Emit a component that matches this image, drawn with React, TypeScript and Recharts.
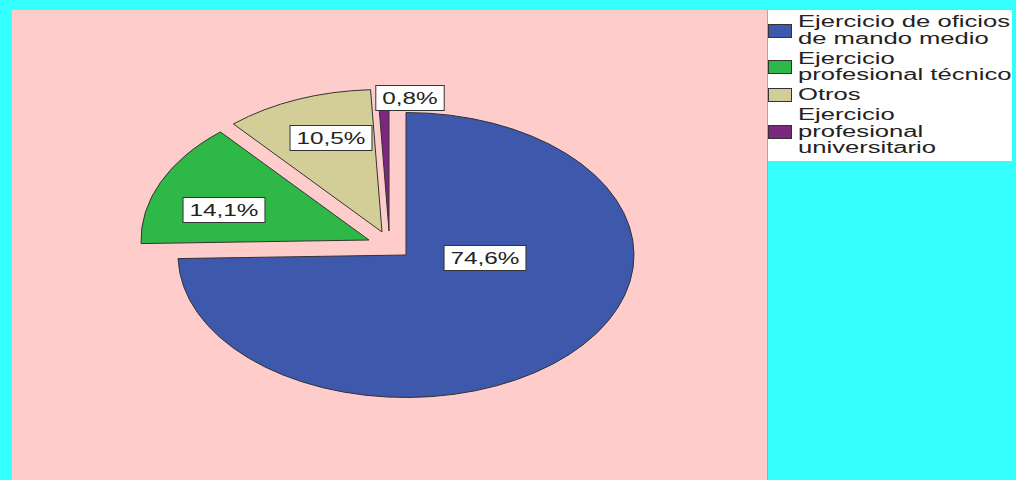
import { PieChart, Pie, Cell, Legend } from 'recharts';

const categories = [
  'Ejercicio de oficios de mando medio',
  'Ejercicio profesional técnico',
  'Otros',
  'Ejercicio profesional universitario',
];
const shares = [74.6, 14.1, 10.5, 0.8];
const legendLines = [
  ['Ejercicio de oficios', 'de mando medio'],
  ['Ejercicio', 'profesional técnico'],
  ['Otros'],
  ['Ejercicio', 'profesional', 'universitario'],
];

const colors = ['#3E58AC', '#2EB848', '#D3CE97', '#7C277D'];

const data = categories.map((name, i) => ({ name, value: shares[i] }));

const W = 1016;
const H = 480;
const CX = 406;
const CY = 255;
const RY = 142.5;
const XSTRETCH = 1.6; // the original pie is drawn as an ellipse
const RAD = Math.PI / 180;
const FONT = '"Liberation Sans", Arial, sans-serif';

// exploded slice offsets and label anchors, relative to the pie centre
const explode = [[0, 0], [-37, -15], [-24, -23], [-17, -24]];
const labelAt = [[79, 3], [-182, -45], [-75, -117], [4, -157]];

const charW: Record<string, number> = { ',': 0.278, '%': 0.889 };
const textEm = (s: string) => s.split('').reduce((a, c) => a + (charW[c] ?? 0.556), 0);

const sliceIndex = (p: any) => {
  const name = p.name ?? p.payload?.name;
  const i = categories.indexOf(name);
  return i >= 0 ? i : p.index ?? 0;
};

const renderSlice = (p: any) => {
  const i = sliceIndex(p);
  const [ox, oy] = explode[i];
  const r = p.outerRadius;
  const rx = r * XSTRETCH;
  const s = p.startAngle;
  const e = p.endAngle;
  const x0 = p.cx + ox;
  const y0 = p.cy + oy;
  const px = (a: number) => x0 + rx * Math.cos(a * RAD);
  const py = (a: number) => y0 - r * Math.sin(a * RAD);
  const large = Math.abs(s - e) > 180 ? 1 : 0;
  const sweep = s > e ? 1 : 0;
  const d = `M${x0},${y0} L${px(s)},${py(s)} A${rx},${r} 0 ${large} ${sweep} ${px(e)},${py(e)} Z`;
  return <path d={d} fill={colors[i]} stroke="#333" strokeWidth={1} strokeLinejoin="round" />;
};

const renderLabel = (p: any) => {
  const i = sliceIndex(p);
  const cx = p.cx ?? CX;
  const cy = p.cy ?? CY;
  const txt = shares[i].toFixed(1).replace('.', ',') + '%';
  const fs = 17;
  const sx = 1.43;
  const w = textEm(txt) * fs * sx + 13;
  return (
    <g transform={`translate(${cx + labelAt[i][0]},${cy + labelAt[i][1]})`}>
      <rect x={-w / 2} y={-12.5} width={w} height={25} fill="#fff" stroke="#333" strokeWidth={1} />
      <text
        transform={`scale(${sx},1)`}
        x={0}
        y={6}
        textAnchor="middle"
        fontSize={fs}
        fontFamily={FONT}
        fill="#222"
      >
        {txt}
      </text>
    </g>
  );
};

const renderLegend = () => (
  <div style={{ paddingTop: 4, fontFamily: FONT, color: '#222' }}>
    {legendLines.map((lines, i) => (
      <div key={i} style={{ display: 'flex', alignItems: 'center', marginBottom: 3.5 }}>
        <div
          style={{
            width: 24,
            height: 14,
            boxSizing: 'border-box',
            border: '1px solid #333',
            background: colors[i],
            marginRight: 6,
            flexShrink: 0,
          }}
        />
        <div>
          {lines.map((l) => (
            <div
              key={l}
              style={{
                fontSize: 16,
                lineHeight: '16.5px',
                whiteSpace: 'nowrap',
                transform: 'scaleX(1.6)',
                transformOrigin: 'left center',
              }}
            >
              {l}
            </div>
          ))}
        </div>
      </div>
    ))}
  </div>
);

export default function App() {
  return (
    <div style={{ position: 'absolute', left: 0, top: 0, width: W, height: H, background: '#33FFFF', overflow: 'hidden' }}>
      <div
        style={{
          position: 'absolute',
          left: 11,
          top: 10,
          width: 757,
          height: H - 10,
          background: '#FFCCCC',
          borderLeft: '1px solid #E8B8B8',
          borderRight: '1px solid #A8A8A8',
          boxSizing: 'border-box',
        }}
      />
      <div style={{ position: 'absolute', left: 0, top: 0 }}>
        <PieChart width={W} height={H} margin={{ top: 0, right: 0, bottom: 0, left: 0 }}>
          <Pie
            data={data}
            dataKey="value"
            nameKey="name"
            cx={CX}
            cy={CY}
            outerRadius={RY}
            startAngle={90}
            endAngle={-270}
            stroke="#333"
            label={renderLabel}
            labelLine={false}
            shape={renderSlice}
            activeShape={renderSlice}
            inactiveShape={renderSlice}
            isAnimationActive={false}
          >
            {data.map((d, i) => (
              <Cell key={d.name} fill={colors[i]} />
            ))}
          </Pie>
          <Legend
            layout="vertical"
            align="right"
            verticalAlign="top"
            content={renderLegend}
            wrapperStyle={{
              position: 'absolute',
              left: 768,
              top: 10,
              width: 244,
              height: 151,
              background: '#fff',
              margin: 0,
              padding: 0,
            }}
          />
        </PieChart>
      </div>
    </div>
  );
}
